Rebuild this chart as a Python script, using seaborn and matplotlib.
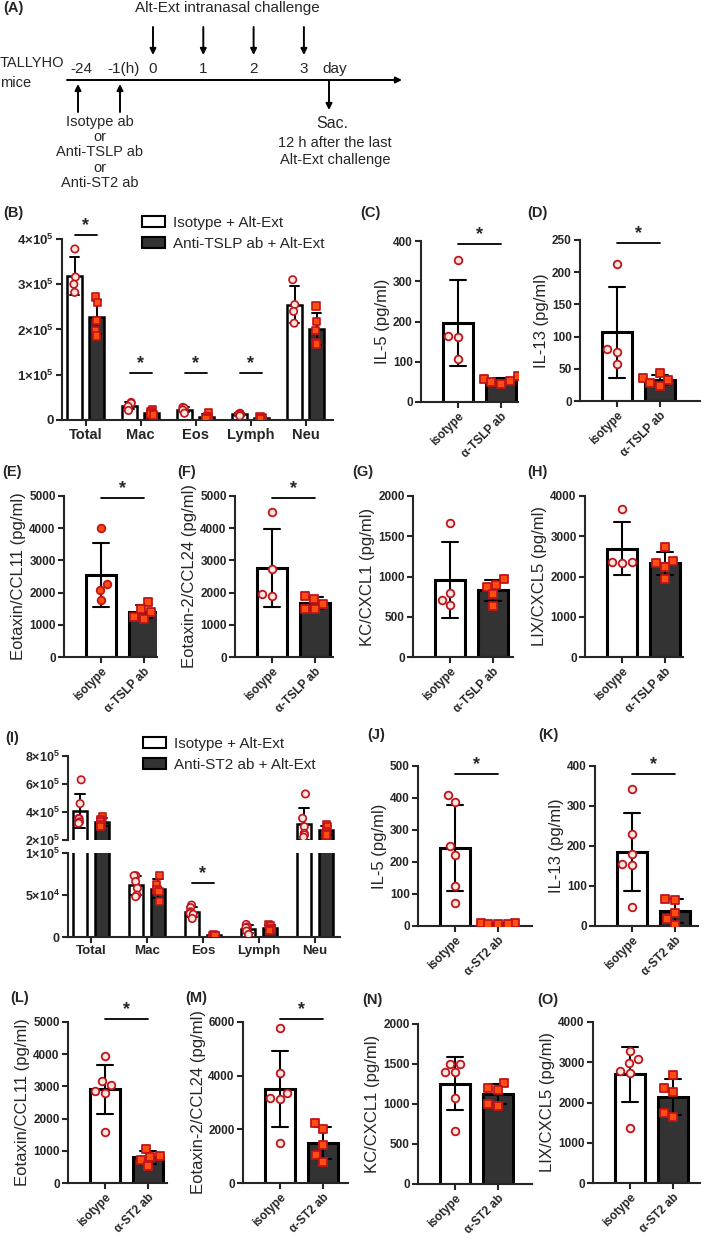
import numpy as np
import pandas as pd
import matplotlib
matplotlib.use("Agg")
import matplotlib.pyplot as plt
from matplotlib.patches import Patch
import seaborn as sns

# ---------------- data ----------------
cells = ["Total", "Mac", "Eos", "Lymph", "Neu"]
grp_b = ["Isotype + Alt-Ext", "Anti-TSLP ab + Alt-Ext"]
grp_i = ["Isotype + Alt-Ext", "Anti-ST2 ab + Alt-Ext"]
lab_tslp = ["isotype", "α-TSLP ab"]
lab_st2 = ["isotype", "α-ST2 ab"]

# BALF cell counts (x1e5), one list per cell type
b_iso = [[3.78, 3.16, 3.00, 2.82], [0.39, 0.37, 0.30, 0.21], [0.28, 0.26, 0.22, 0.15],
         [0.15, 0.13, 0.12, 0.09], [3.10, 2.55, 2.40, 2.14]]
b_tslp = [[2.72, 2.60, 2.20, 1.98, 1.86], [0.22, 0.18, 0.15, 0.13, 0.11], [0.16, 0.07, 0.07, 0.04, 0.02],
          [0.07, 0.05, 0.04, 0.02, 0.02], [2.52, 2.18, 1.98, 1.70, 1.68]]
i_iso = [[6.30, 4.60, 3.55, 3.50, 3.30, 3.20], [0.73, 0.73, 0.66, 0.58, 0.50, 0.48],
         [0.38, 0.35, 0.30, 0.28, 0.27, 0.22], [0.15, 0.12, 0.11, 0.07, 0.03],
         [5.29, 3.55, 2.95, 2.48, 2.36, 2.20]]
i_st2 = [[3.70, 3.43, 3.30, 3.07, 2.95], [0.73, 0.62, 0.56, 0.54, 0.42], [0.03, 0.02, 0.02, 0.01, 0.01],
         [0.15, 0.13, 0.10, 0.09, 0.08], [3.07, 2.95, 2.60, 2.48, 2.36]]

# cytokines (pg/ml)
il5_iso_c = [352, 164, 161, 107]
il5_tslp = [64, 57, 45, 50, 52]
il13_iso_d = [212, 80, 76, 58]
il13_tslp = [44, 36, 32, 28, 24]
ccl11_iso_e = [3994, 2282, 2075, 1784]
ccl11_tslp = [1712, 1483, 1400, 1245, 1193]
ccl24_iso_f = [4492, 2718, 1971, 1888]
ccl24_tslp = [1888, 1815, 1660, 1483, 1483]
cxcl1_iso_g = [1660, 801, 714, 643]
cxcl1_tslp = [967, 892, 871, 780, 635]
cxcl5_iso_h = [3676, 2365, 2365, 2340]
cxcl5_tslp = [2722, 2390, 2340, 2241, 1934]

il5_iso_j = [408, 386, 249, 223, 125, 71]
il5_st2 = [8, 8, 7, 7, 6]
il13_iso_k = [342, 229, 181, 155, 152, 48]
il13_st2 = [68, 66, 33, 17, 2]
ccl11_iso_l = [3950, 3181, 3046, 2869, 2807, 1590]
ccl11_st2 = [1071, 832, 811, 728, 520]
ccl24_iso_m = [5773, 4115, 3367, 3155, 3117, 1496]
ccl24_st2 = [2219, 1995, 1409, 1035, 786]
cxcl1_iso_n = [1500, 1500, 1396, 1396, 1071, 667]
cxcl1_st2 = [1267, 1196, 1175, 996, 979]
cxcl5_iso_o = [3268, 3077, 2977, 2794, 2744, 1356]
cxcl5_st2 = [2686, 2370, 2270, 1746, 1630]

# ---------------- style ----------------
sns.set_style("ticks")
plt.rcParams["font.family"] = ["Liberation Sans", "DejaVu Sans"]
plt.rcParams["mathtext.fontset"] = "custom"
plt.rcParams["mathtext.bf"] = "Liberation Sans:bold"
plt.rcParams["mathtext.rm"] = "Liberation Sans"
plt.rcParams["axes.linewidth"] = 1.5
for a in ("xtick", "ytick"):
    plt.rcParams[a + ".major.width"] = 1.5
    plt.rcParams[a + ".major.size"] = 4
    plt.rcParams[a + ".major.pad"] = 2

W, H = 709, 1242
PALE = "#fde4dc"
EDGE = "#c0141c"
SQ = "#ff4d0d"
DARK = "#333333"
np.random.seed(3)  # strip jitter in the grouped panels

fig = plt.figure(figsize=(W / 100, H / 100), dpi=100)


def rect(x0, y0, x1, y1):
    return [x0 / W, 1 - y1 / H, (x1 - x0) / W, (y1 - y0) / H]


def sci(v):
    if v == 0:
        return "0"
    e = int(np.floor(np.log10(v)))
    m = int(round(v / 10 ** e))
    return "%d×10$^{\\mathbf{%d}}$" % (m, e)


def bold_ticks(ax, size_y=8, size_x=None):
    for t in ax.get_yticklabels():
        t.set_fontweight("bold")
        t.set_fontsize(size_y)
    if size_x:
        for t in ax.get_xticklabels():
            t.set_fontweight("bold")
            t.set_fontsize(size_x)


def star(ax, x0, x1, y):
    ax.plot([x0, x1], [y, y], color="black", lw=1.3, clip_on=False)
    ax.annotate("*", xy=((x0 + x1) / 2, y), xytext=(0, 0.5), textcoords="offset points",
                ha="center", va="bottom", fontsize=13, fontweight="bold", annotation_clip=False)


# ---------------- panel A: schematic ----------------
axA = fig.add_axes(rect(0, 0, W, 200))
axA.set_xlim(0, W)
axA.set_ylim(200, 0)
axA.axis("off")
day_labels = ["0", "1", "2", "3"]
day_x = [153 + 50.3 * i for i in range(len(day_labels))]
pre_labels = ["-24", "-1(h)"]
pre_x = [80, 122]
arr = dict(arrowstyle="-|>", lw=1.4, color="black", mutation_scale=9, shrinkA=0, shrinkB=0)
axA.annotate("", xy=(402, 80), xytext=(67, 80), arrowprops=arr)
for lab, x in zip(day_labels, day_x):
    axA.text(x, 69, lab, ha="center", va="center", fontsize=11)
    axA.annotate("", xy=(x, 55), xytext=(x, 27), arrowprops=arr)
for lab, x in zip(pre_labels, [81, 124]):
    axA.text(x, 69, lab, ha="center", va="center", fontsize=11)
for x in pre_x:
    axA.annotate("", xy=(x - 2, 84), xytext=(x - 2, 112), arrowprops=arr)
axA.text(335, 69, "day", ha="center", va="center", fontsize=11)
axA.text(227, 8, "Alt-Ext intranasal challenge", ha="center", va="center", fontsize=11)
axA.text(0, 63, "TALLYHO", ha="left", va="center", fontsize=10.5)
axA.text(0, 83, "mice", ha="left", va="center", fontsize=10.5)
for k, s in enumerate(["Isotype ab", "or", "Anti-TSLP ab", "or", "Anti-ST2 ab"]):
    axA.text(100, 122 + 15.2 * k, s, ha="center", va="center", fontsize=10.5)
axA.annotate("", xy=(329, 110), xytext=(329, 81), arrowprops=arr)
axA.text(332, 123, "Sac.", ha="center", va="center", fontsize=11.5)
axA.text(335, 143, "12 h after the last", ha="center", va="center", fontsize=10.5)
axA.text(335, 160, "Alt-Ext challenge", ha="center", va="center", fontsize=10.5)


# ---------------- grouped cell panels ----------------
def to_long(iso, ab, groups):
    rows = []
    for c, a, b in zip(cells, iso, ab):
        rows += [(c, groups[0], v * 1e5) for v in a]
        rows += [(c, groups[1], v * 1e5) for v in b]
    return pd.DataFrame(rows, columns=["cell", "grp", "val"])


def cell_bars(ax, d, groups, gap):
    pal = dict(zip(groups, ["white", DARK]))
    sns.barplot(data=d, x="cell", y="val", hue="grp", order=cells, hue_order=groups, palette=pal,
                errorbar="sd", capsize=0.35, width=0.8, gap=gap, edgecolor="black", linewidth=1.8,
                err_kws={"color": "black", "linewidth": 1.4}, legend=False, ax=ax)
    spal = dict(zip(groups, [PALE, SQ]))
    for g, mk in zip(groups, ["o", "s"]):
        sns.stripplot(data=d[d.grp == g], x="cell", y="val", hue="grp", order=cells, hue_order=groups,
                      palette=spal, dodge=True, jitter=0.07, marker=mk, size=5.3, edgecolor=EDGE,
                      linewidth=1.2, legend=False, ax=ax, zorder=3)
    ax.set_xlabel("")
    ax.set_ylabel("")


legend_handles = [Patch(facecolor="white", edgecolor="black", lw=1.5),
                  Patch(facecolor=DARK, edgecolor="black", lw=1.5)]
leg_kw = dict(loc="upper left", frameon=False, fontsize=11, handlelength=1.5, handleheight=0.7,
              handletextpad=0.5, labelspacing=0.45, borderpad=0, borderaxespad=0)

# B
dB = to_long(b_iso, b_tslp, grp_b)
axB = fig.add_axes(rect(62, 239, 333, 420))
cell_bars(axB, dB, grp_b, 0.33)
axB.set_xlim(-0.43, 4.5)
axB.set_ylim(0, 4e5)
ticks = [0, 1e5, 2e5, 3e5, 4e5]
axB.set_yticks(ticks, [sci(t) for t in ticks])
bold_ticks(axB, 9.5, 10.5)
sns.despine(ax=axB)
star(axB, -0.2, 0.2, 4.09e5)
for k in (1, 2, 3):
    star(axB, k - 0.2, k + 0.2, 1.04e5)
fig.legend(legend_handles, grp_b, bbox_to_anchor=(142 / W, 1 - 216 / H), **leg_kw)

# I (broken axis)
dI = to_long(i_iso, i_st2, grp_i)
axIt = fig.add_axes(rect(68, 756, 340, 840))
axIb = fig.add_axes(rect(68, 853, 340, 937))
for ax in (axIt, axIb):
    cell_bars(ax, dI, grp_i, 0.37)
    ax.set_xlim(-0.41, 4.45)
    sns.despine(ax=ax)
axIt.set_ylim(2e5, 8e5)
ticks = [2e5, 4e5, 6e5, 8e5]
axIt.set_yticks(ticks, [sci(t) for t in ticks])
axIt.spines["bottom"].set_visible(False)
axIt.tick_params(axis="x", bottom=False, labelbottom=False)
axIb.set_ylim(0, 1e5)
ticks = [0, 5e4, 1e5]
axIb.set_yticks(ticks, [sci(t) for t in ticks])
bold_ticks(axIt, 9)
bold_ticks(axIb, 9, 9.6)
star(axIb, 1.8, 2.2, 0.64e5)
fig.legend(legend_handles, grp_i, bbox_to_anchor=(143 / W, 1 - 737 / H), **leg_kw)


# ---------------- two-bar cytokine panels ----------------
def small_panel(r, iso, ab, labels, ylabel, ymax, step, sig=None, iso_face=PALE):
    ax = fig.add_axes(rect(*r))
    d = pd.DataFrame({"grp": [labels[0]] * len(iso) + [labels[1]] * len(ab), "val": iso + ab})
    sns.barplot(data=d, x="grp", y="val", order=labels, hue="grp", hue_order=labels,
                palette=["white", DARK], errorbar="sd", capsize=0.38, width=0.7,
                edgecolor="black", linewidth=2.2, err_kws={"color": "black", "linewidth": 1.5},
                legend=False, ax=ax)
    sns.swarmplot(data=d[d.grp == labels[0]], x="grp", y="val", order=labels, color=iso_face,
                  marker="o", size=5.5, edgecolor=EDGE, linewidth=1.3, ax=ax, zorder=3)
    sns.swarmplot(data=d[d.grp == labels[1]], x="grp", y="val", order=labels, color=SQ,
                  marker="s", size=5.5, edgecolor=EDGE, linewidth=1.3, ax=ax, zorder=3)
    ax.set_xlim(-0.86, (r[2] - r[0]) / 43 - 0.86)
    ax.set_ylim(0, ymax)
    ax.set_yticks(np.arange(0, ymax + 1, step))
    ax.set_xlabel("")
    ax.set_ylabel(ylabel, fontsize=12, labelpad=2)
    bold_ticks(ax, 8.5, 8.5)
    for t in ax.get_xticklabels():
        t.set_rotation(45)
        t.set_ha("right")
        t.set_rotation_mode("anchor")
    sns.despine(ax=ax)
    if sig is not None:
        star(ax, 0, 1, sig)
    return ax


small_panel((421, 241, 518, 402), il5_iso_c, il5_tslp, lab_tslp, "IL-5 (pg/ml)", 400, 100, 392)
small_panel((580, 240, 700, 401), il13_iso_d, il13_tslp, lab_tslp, "IL-13 (pg/ml)", 250, 50, 245)
small_panel((64, 496, 157, 657), ccl11_iso_e, ccl11_tslp, lab_tslp, "Eotaxin/CCL11 (pg/ml)", 5000, 1000, 4950,
            iso_face=SQ)
small_panel((235, 496, 333, 657), ccl24_iso_f, ccl24_tslp, lab_tslp, "Eotaxin-2/CCL24 (pg/ml)", 5000, 1000, 4950)
small_panel((413, 496, 513, 657), cxcl1_iso_g, cxcl1_tslp, lab_tslp, "KC/CXCL1 (pg/ml)", 2000, 500)
small_panel((585, 496, 683, 657), cxcl5_iso_h, cxcl5_tslp, lab_tslp, "LIX/CXCL5 (pg/ml)", 4000, 1000)

small_panel((418, 766, 532, 926), il5_iso_j, il5_st2, lab_st2, "IL-5 (pg/ml)", 500, 100, 475)
small_panel((595, 766, 698, 926), il13_iso_k, il13_st2, lab_st2, "IL-13 (pg/ml)", 400, 100, 380)
small_panel((68, 1022, 167, 1183), ccl11_iso_l, ccl11_st2, lab_st2, "Eotaxin/CCL11 (pg/ml)", 5000, 1000, 5100)
small_panel((243, 1022, 348, 1183), ccl24_iso_m, ccl24_st2, lab_st2, "Eotaxin-2/CCL24 (pg/ml)", 6000, 2000, 6120)
small_panel((418, 1024, 532, 1184), cxcl1_iso_n, cxcl1_st2, lab_st2, "KC/CXCL1 (pg/ml)", 2000, 500)
small_panel((593, 1022, 700, 1183), cxcl5_iso_o, cxcl5_st2, lab_st2, "LIX/CXCL5 (pg/ml)", 4000, 1000)

# ---------------- panel letters ----------------
letters = ["(A)", "(B)", "(C)", "(D)", "(E)", "(F)", "(G)", "(H)",
           "(I)", "(J)", "(K)", "(L)", "(M)", "(N)", "(O)"]
letter_xy = [(3, 8), (3, 213), (360, 213), (527, 213), (2, 472), (177, 472), (352, 472), (527, 472),
             (5, 738), (367, 735), (538, 735), (10, 998), (185, 998), (362, 1000), (537, 1000)]
for s, (x, y) in zip(letters, letter_xy):
    fig.text(x / W, 1 - y / H, s, ha="left", va="center", fontsize=10.5, fontweight="bold")

fig.savefig("out.png", dpi=100)
